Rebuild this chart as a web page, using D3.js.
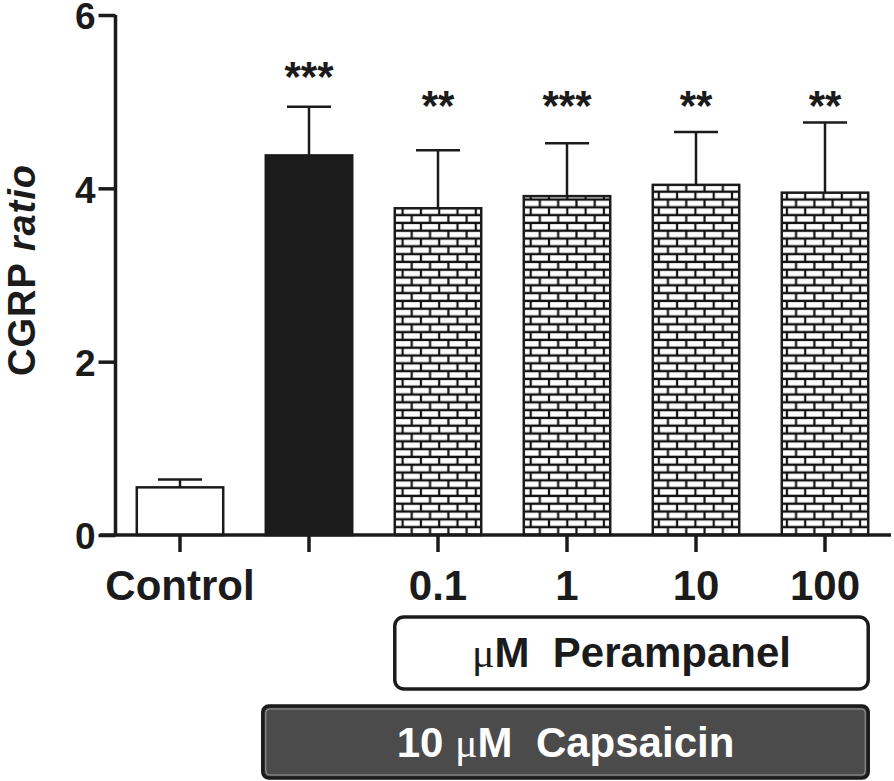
<!DOCTYPE html>
<html><head><meta charset="utf-8">
<script src="https://cdn.jsdelivr.net/npm/d3@7"></script>
<style>
html,body{margin:0;padding:0;background:#fff;}
svg{display:block;font-family:"Liberation Sans",Arial,Helvetica,sans-serif;}
</style></head>
<body>
<svg id="chart" width="894" height="781"></svg>
<script>
// ---- data ----
const categories = ["Control", "Capsaicin", "0.1", "1", "10", "100"];
const tickLabels = ["Control", "", "0.1", "1", "10", "100"];
const means = [0.55, 4.38, 3.77, 3.91, 4.04, 3.95];
const sems  = [0.09, 0.56, 0.67, 0.61, 0.61, 0.81];
const significance = ["", "***", "**", "***", "**", "**"];
const sigLevels = [null, 5.4, 5.06, 5.06, 5.06, 5.06];
const fills = ["white", "black", "brick", "brick", "brick", "brick"];
const yTicks = [0, 2, 4, 6];
const perampanelGroup = ["0.1", "1", "10", "100"];
const capsaicinGroup = ["Capsaicin", "0.1", "1", "10", "100"];

const svg = d3.select("#chart");
const FONT = "'Liberation Sans', Arial, Helvetica, sans-serif";

// brick pattern
const defs = svg.append("defs");
const bw = 18.3, bh = 7.8;
const pat = defs.append("pattern").attr("id", "brick")
  .attr("patternUnits", "userSpaceOnUse")
  .attr("width", bw).attr("height", bh * 2)
  .attr("y", 535);
pat.append("rect").attr("width", bw).attr("height", bh * 2).attr("fill", "#111");
pat.append("rect").attr("x", 1.1).attr("y", 1.1).attr("width", bw - 2.2).attr("height", bh - 2.4).attr("fill", "white");
pat.append("rect").attr("x", 1.1 - bw / 2).attr("y", bh + 1.1).attr("width", bw - 2.2).attr("height", bh - 2.4).attr("fill", "white");
pat.append("rect").attr("x", 1.1 + bw / 2).attr("y", bh + 1.1).attr("width", bw - 2.2).attr("height", bh - 2.4).attr("fill", "white");

const x = d3.scaleBand().domain(categories).range([115.5, 889.5])
  .paddingInner(0.33).paddingOuter(0.165);
const y = d3.scaleLinear().domain([0, 6]).range([535, 15]);

// bars
svg.append("g").selectAll("rect").data(categories).join("rect")
  .attr("x", d => x(d))
  .attr("y", (d, i) => y(means[i]))
  .attr("width", x.bandwidth())
  .attr("height", (d, i) => y(0) - y(means[i]))
  .attr("fill", (d, i) => fills[i] === "brick" ? "url(#brick)" : (fills[i] === "black" ? "#1b1b1b" : "white"))
  .attr("stroke", "#1b1b1b")
  .attr("stroke-width", 2.5);

// error bars
const eb = svg.append("g").attr("stroke", "#1b1b1b").attr("stroke-width", 2.5);
categories.forEach((c, i) => {
  const cx = x(c) + x.bandwidth() / 2;
  eb.append("line").attr("x1", cx).attr("x2", cx).attr("y1", y(means[i])).attr("y2", y(means[i] + sems[i]));
  eb.append("line").attr("x1", cx - 22).attr("x2", cx + 22).attr("y1", y(means[i] + sems[i])).attr("y2", y(means[i] + sems[i]));
});

// significance
svg.append("g").selectAll("text").data(categories).join("text")
  .attr("x", d => x(d) + x.bandwidth() / 2)
  .attr("y", (d, i) => sigLevels[i] == null ? 0 : y(sigLevels[i]) + 24)
  .attr("text-anchor", "middle")
  .attr("font-size", 42).attr("font-weight", "bold").attr("fill", "#1b1b1b")
  .text((d, i) => significance[i]);

// y axis
const yAxis = svg.append("g").attr("transform", "translate(115.5,0)")
  .call(d3.axisLeft(y).tickValues(yTicks).tickSize(17).tickPadding(3).tickFormat(d3.format("d")));
yAxis.select(".domain").attr("d", `M0,${y(6)}V${y(0)}`).attr("stroke", "#1b1b1b").attr("stroke-width", 3.5);
yAxis.selectAll(".tick line").attr("stroke", "#1b1b1b").attr("stroke-width", 3.5);
yAxis.selectAll(".tick text").attr("font-size", 37).attr("font-weight", "bold")
  .attr("font-family", FONT).attr("fill", "#1b1b1b").attr("dy", "0.37em");

// x axis
const xAxis = svg.append("g").attr("transform", `translate(0,${y(0)})`)
  .call(d3.axisBottom(x).tickSize(17).tickPadding(18).tickFormat((d, i) => tickLabels[i]));
xAxis.select(".domain").attr("d", `M100,0H891`).attr("stroke", "#1b1b1b").attr("stroke-width", 3.5);
xAxis.selectAll(".tick line").attr("stroke", "#1b1b1b").attr("stroke-width", 3.5);
xAxis.selectAll(".tick text").attr("font-size", 42).attr("font-weight", "bold")
  .attr("font-family", FONT).attr("fill", "#1b1b1b").attr("dy", "0.71em");

// y title
const yt = svg.append("text").attr("transform", "translate(35,270) rotate(-90)")
  .attr("text-anchor", "middle").attr("font-size", 38).attr("font-weight", "bold").attr("fill", "#1b1b1b")
  .attr("letter-spacing", 1);
yt.append("tspan").text("CGRP ");
yt.append("tspan").attr("font-style", "italic").text("ratio");

// Perampanel box
const pL = x(perampanelGroup[0]), pR = x(perampanelGroup[perampanelGroup.length - 1]) + x.bandwidth();
svg.append("rect").attr("x", pL).attr("y", 617).attr("width", pR - pL).attr("height", 72)
  .attr("rx", 9).attr("fill", "white").attr("stroke", "#1b1b1b").attr("stroke-width", 3.5);
const pt = svg.append("text").attr("x", (pL + pR) / 2).attr("y", 667).attr("text-anchor", "middle")
  .attr("font-size", 42).attr("font-weight", "bold").attr("fill", "#1b1b1b");
pt.append("tspan").attr("font-family", "'Liberation Serif', serif").attr("font-weight", "normal").text("\u03BC");
pt.append("tspan").text("M\u00A0\u00A0Perampanel");

// Capsaicin box
const cL = x(capsaicinGroup[0]) - 3, cR = pR;
svg.append("rect").attr("x", cL).attr("y", 706).attr("width", cR - cL).attr("height", 72)
  .attr("rx", 6).attr("fill", "#4b4b4b").attr("stroke", "#1b1b1b").attr("stroke-width", 3.5);
svg.append("rect").attr("x", cL + 3).attr("y", 709).attr("width", cR - cL - 6).attr("height", 66)
  .attr("rx", 4).attr("fill", "none").attr("stroke", "#9a9a9a").attr("stroke-width", 1);
const ct = svg.append("text").attr("x", (cL + cR) / 2).attr("y", 757).attr("text-anchor", "middle")
  .attr("font-size", 42).attr("font-weight", "bold").attr("fill", "white");
ct.append("tspan").text("10\u00A0");
ct.append("tspan").attr("font-family", "'Liberation Serif', serif").attr("font-weight", "normal").text("\u03BC");
ct.append("tspan").text("M\u00A0\u00A0Capsaicin");
</script>
</body></html>
